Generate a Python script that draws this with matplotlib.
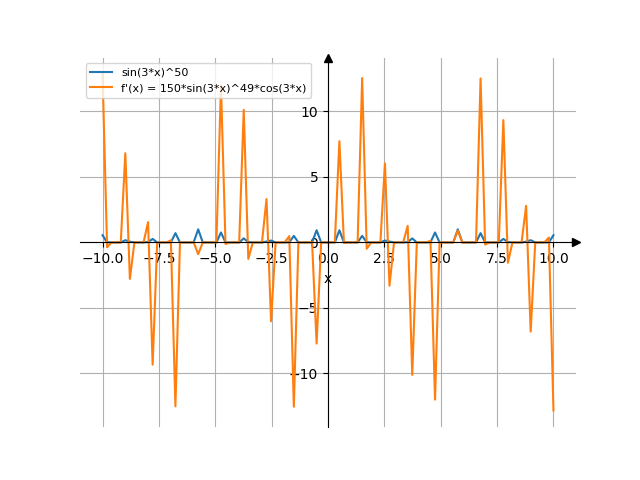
import numpy as np
import matplotlib
matplotlib.use("Agg")
import matplotlib.pyplot as plt

# sample positions: 100 evenly spaced samples over [-10, 10]
x_start, x_stop, n_samples = -10.0, 10.0, 100

# sin(3*x)^50 values read at each sample (index 0..99)
f_vals = [
    0.548, 0.005, 0, 0, 0, 0.167, 0.053, 0, 0, 0,
    0.026, 0.268, 0, 0, 0, 0.002, 0.708, 0, 0, 0,
    0.0001, 0.999, 0, 0, 0, 0, 0.758, 0.0014, 0, 0,
    0, 0.307, 0.020, 0, 0, 0, 0.065, 0.141, 0, 0,
    0, 0.007, 0.497, 0, 0, 0, 0.0003, 0.926, 0, 0,
    0, 0, 0.926, 0.0003, 0, 0, 0, 0.497, 0.007, 0,
    0, 0, 0.141, 0.065, 0, 0, 0, 0.020, 0.307, 0,
    0, 0, 0.0014, 0.758, 0, 0, 0, 0, 0.999, 0.0001,
    0, 0, 0, 0.708, 0.002, 0, 0, 0, 0.268, 0.026,
    0, 0, 0, 0.053, 0.167, 0, 0, 0, 0.005, 0.548,
]

# derivative values read at each sample
df_vals = [
    12.83, -0.37, 0, 0, 0, 6.81, -2.79, 0, 0, 0,
    1.55, -9.34, 0, 0, 0, 0.16, -12.52, 0, 0, 0,
    0.01, -0.90, 0, 0, 0, 0, 12.01, -0.12, 0, 0,
    0, 10.12, -1.26, 0, 0, 0, 3.31, -6.03, 0, 0,
    0, 0.48, -12.55, 0, 0, 0, 0.03, -7.73, 0, 0,
    0, 0, 7.73, -0.03, 0, 0, 0, 12.55, -0.48, 0,
    0, 0, 6.03, -3.31, 0, 0, 0, 1.26, -10.12, 0,
    0, 0, 0.12, -12.01, 0, 0, 0, 0, 0.90, -0.01,
    0, 0, 0, 12.52, -0.16, 0, 0, 0, 9.34, -1.55,
    0, 0, 0, 2.79, -6.81, 0, 0, 0, 0.37, -12.83,
]

labels = ["sin(3*x)^50", "f'(x) = 150*sin(3*x)^49*cos(3*x)"]

xs = np.linspace(x_start, x_stop, n_samples)

fig, ax = plt.subplots(figsize=(6.4, 4.8), dpi=100)
ax.plot(xs, f_vals, label=labels[0])
ax.plot(xs, df_vals, label=labels[1])

ax.spines['left'].set_position(('data', 0))
ax.spines['bottom'].set_position(('data', 0))
ax.spines['right'].set_visible(False)
ax.spines['top'].set_visible(False)
ax.plot(1, 0, ">k", transform=ax.get_yaxis_transform(), clip_on=False)
ax.plot(0, 1, "^k", transform=ax.get_xaxis_transform(), clip_on=False)
ax.grid(True)
ax.set_xlabel("x")
ax.legend(loc="upper left", fontsize=8)

fig.savefig("out.png", dpi=100)
